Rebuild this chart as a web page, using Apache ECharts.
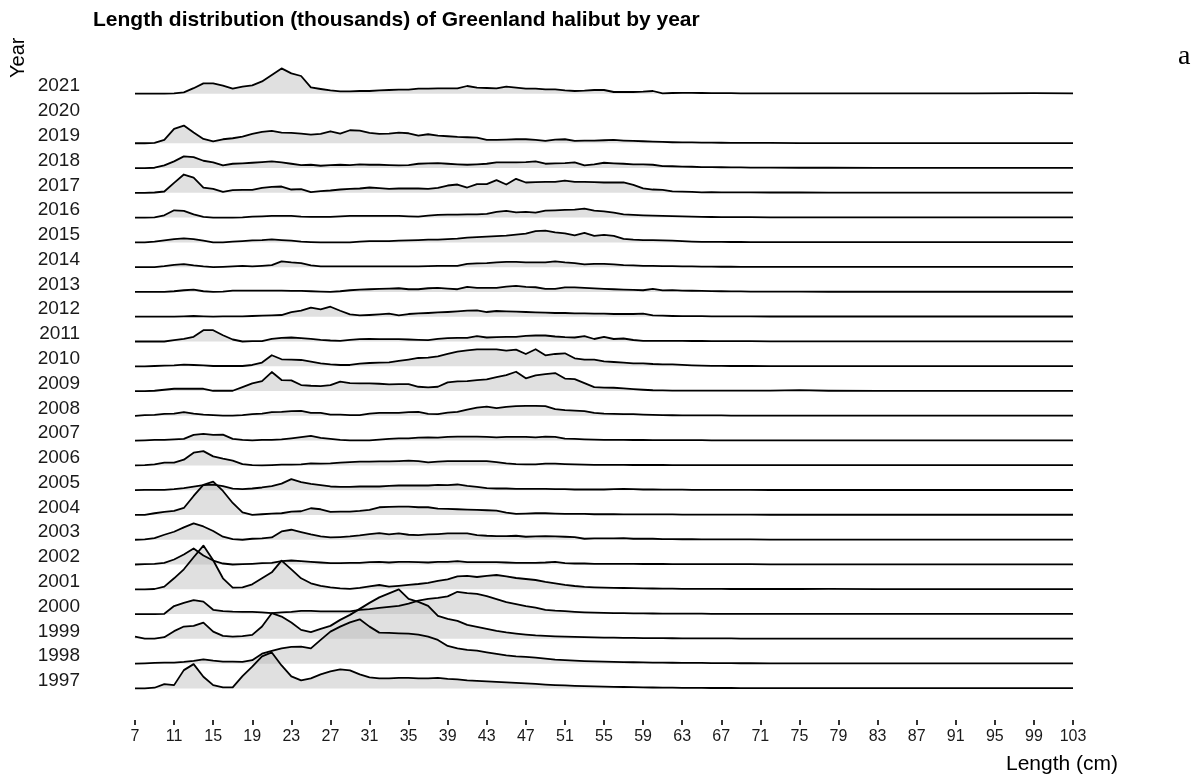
<!DOCTYPE html>
<html><head><meta charset="utf-8">
<script src="https://cdn.jsdelivr.net/npm/echarts@6/dist/echarts.min.js"></script>
<style>html,body{margin:0;padding:0;background:#fff}#main{width:1193px;height:782px}</style>
</head><body><div id="main"></div><script>
// Length classes (cm)
const lengths = [7,8,9,10,11,12,13,14,15,16,17,18,19,20,21,22,23,24,25,26,27,28,29,30,31,32,33,34,35,36,37,38,39,40,41,42,43,44,45,46,47,48,49,50,51,52,53,54,55,56,57,58,59,60,61,62,63,64,65,66,67,68,69,70,72,75,78,83,88,93,99,103];
const xTicks = [7,11,15,19,23,27,31,35,39,43,47,51,55,59,63,67,71,75,79,83,87,91,95,99,103];
// Years shown, top to bottom (2020 has no survey data)
const years = ['2021','2020','2019','2018','2017','2016','2015','2014','2013','2012','2011','2010','2009','2008','2007','2006','2005','2004','2003','2002','2001','2000','1999','1998','1997'];

// Estimated numbers (thousands, relative) by length class
const y2021 = [0,0,0,0,0.3,1.3,5.5,10.3,10.3,8, 5,7,8.3,12.3,18.7,25.3,20.3,17.7,6.3,4.7, 3.3,2.3,2.3,2.7,2.7,3.3,3.7,4,4,5, 5,5.3,5.3,5.3,7.7,6,5.7,5.3,7,6, 5,5,4.3,4.3,3.3,2.7,3,3.7,3.7,1.7, 1.7,1.7,2,2.7,0.3,0.7,0.8,0.8,0.7,0.6, 0.5,0.5,0.4,0.4, 0.3,0.3,0.3,0.3,0.3,0.3,0.5,0.3];
const y2019 = [0,0,0.3,3.3,14.3,17.7,10.7,4.3,2,4, 5,6.7,9.3,11.3,12.3,10.7,10.3,9.7,8.7,9.3, 12,9.7,13,12.7,10.3,9.3,9.7,10.7,10,7.7, 9,7.7,7,6.3,6,5.7,3.3,3.3,3.7,4, 4,3.3,2.3,3.7,4,2.3,2.7,2.7,3,3.3, 2.7,2.3,2,1.7,1.3,1,0.9,0.8,0.7,0.6, 0.5,0.4,0.4,0.3, 0.3,0.2,0.2,0.2,0.2,0.2,0.2,0.2];
const y2018 = [0,0,0.3,2.7,6.7,11.7,11,7.3,5.7,2.7, 4.3,4.7,5.3,6,6.7,5.7,4.3,3,3.3,2.3, 3,3.3,3,3.7,3.3,3.3,3,2.7,3,4.3, 4.7,5,4.3,3.7,3.3,3.7,4.3,5.7,5.7,5.7, 6,6.7,4.3,4.7,5,5.7,2.7,3.7,5.3,4.7, 4.3,3.7,3.7,3.3,2,1.8,1.5,1.3,1,0.9, 0.8,0.7,0.6,0.5, 0.4,0.3,0.3,0.2,0.2,0.2,0.2,0.2];
const y2017 = [0,0,0.3,1.3,10,18.3,15.3,5.3,4,1, 2.7,3,3,5,6,6.3,3.3,3.7,0.7,1.7, 2.3,3.3,4,4.3,5.3,4.7,4,4.3,4.3,4.3, 4,5,7.3,8.3,5.3,8.7,8.7,12.7,8.3,14, 10.3,10.7,11,11,12.3,11,11,10.7,10.3,10.3, 10.5,8,4.5,3.3,3,1.5,1.2,1,0.5,0.7, 0.5,0.5,0.4,0.4, 0.3,0.3,0.2,0.2,0.2,0.2,0.2,0.2];
const y2016 = [0,0,0.3,2.3,7.3,6.7,3.3,0.7,0,0, 0,0.3,1,1.3,1.7,1.7,1.7,1,0.7,0.7, 0.7,1.3,1.7,1.7,1.7,1.7,1.7,1.7,1.3,1, 2,2.7,3,3,3.3,3.3,3.7,5.7,6.7,5.3, 5.7,5,7,7.3,7.7,8,9,7,6.3,5, 3.3,2.7,2.3,2,1.7,1.5,1.2,0.9,0.7,0.6, 0.5,0.5,0.4,0.4, 0.3,0.3,0.2,0.2,0.2,0.2,0.2,0.2];
const y2015 = [0,0,0.7,2,3.3,4,3.3,1.7,0,0, 0.7,1.3,2,2.3,3,2.3,1.7,0.7,0.3,0, 0,0,0,0.7,1.3,1.3,1.3,1.7,2,2.3, 2.7,2.7,3.3,3.7,4.7,5.3,5.7,6.3,6.7,7.7, 8.7,11.3,11.7,10,9,7,9.5,6.5,7.5,6.5, 3.5,2.7,2.3,2.2,2,1.7,1.2,0.8,0.6,0.5, 0.5,0.4,0.4,0.3, 0.3,0.2,0.2,0.2,0.2,0.2,0.2,0.2];
const y2014 = [0,0,0,1,2.3,3,1.7,0.7,0,0.3, 0.7,1.3,0.7,1.3,2,5.7,4.7,4,1.7,0.7, 0.7,0.7,0.7,0.7,0.7,0.7,0.7,0.7,0.7,0.7, 1,1.3,1.3,1.3,3.3,3.7,4,4.7,5.3,5.3, 4.7,4.7,4.7,5.7,4.7,4,2.7,3.3,3.3,2.7, 2,1.7,1.3,1.2,1,1,0.8,0.7,0.6,0.5, 0.4,0.4,0.3,0.3, 0.3,0.2,0.2,0.2,0.2,0.2,0.2,0.2];
const y2013 = [0,0,0,0,0.7,1.7,2.3,0.7,0,0.3, 1.3,1.3,1.3,1.3,1.3,1.3,1,1,0.7,0.3, 0,0.7,1.7,2.3,2.7,3,3.3,3.7,2.7,2.7, 3.7,4,3.3,2.7,5,4,4,4,5.3,6, 5,4.7,3,3,4.5,4.5,4,3.5,3,2.7, 2.3,2,1.7,3,1.5,1.8,1.4,1.2,1,0.8, 0.7,0.6,0.5,0.4, 0.3,0.3,0.2,0.2,0.2,0.2,0.2,0.2];
const y2012 = [0,0,0,0,0,0.3,0.7,0.3,0,0.3, 0.3,0.3,0.7,1,1.3,1.7,4.7,6,9,7.3, 10,6,2.3,1.3,1.7,2.3,3,1.3,2.7,3.3, 3.7,4.3,4.7,5.3,6,6.3,4.7,5.7,5.3,5, 4.7,4.3,4,3.7,3.7,3.3,3.3,3,3,2.7, 2.7,2.7,3,1.3,1,0.7,0.6,0.5,0.5,0.4, 0.4,0.3,0.3,0.3, 0.2,0.2,0.2,0.2,0.2,0.2,0.2,0.2];
const y2011 = [0,0,0,0,1.3,2.7,4.7,11.3,11.3,6.3, 2,0,0.3,0.3,2.7,3.7,4,3.3,2.7,1.7, 1,0.7,1.7,2.3,2.7,2.3,2.3,2.3,2,1.7, 1.3,2.7,3.3,3.7,3.7,5.3,4,4.3,4.7,4.7, 5.7,6,6,5,4.3,4,5.3,2.5,4.7,2.5, 3,1.5,0.7,0.7,0.7,0.7,0.6,0.5,0.5,0.4, 0.4,0.3,0.3,0.3, 0.2,0.2,0.2,0.2,0.2,0.2,0.2,0.2];
const y2010 = [0,0,0.3,0.7,1,1.7,1.3,1,0.3,0.3, 0.3,0.3,1.3,3.7,11,7,6.7,6.3,4.7,3, 2,1.3,1.3,2.7,3.3,3.7,4,5.3,6.7,8.3, 8.7,10,12.3,14.7,16,17,17,17,15.7,16.7, 12.3,17,11,12.3,13,8,6.7,6.7,5,4.3, 3.7,3,3,2.3,2,2,1.5,1,0.7,0.5, 0.4,0.3,0.3,0.3, 0.2,0.2,0.2,0.2,0.2,0.2,0.2,0.2];
const y2009 = [0,0,0.3,1.3,2.3,2.3,2.3,2.3,0.3,0.3, 0.3,4,7.7,10,19,11,10.7,6,5.3,5, 6,9.5,8,7.7,7.7,7.3,6.7,7,7,4.3, 3.7,4.3,8.7,9.7,10,11,11.7,14,16,19.3, 12.7,15.7,17,18,12.5,12,8,4,3.5,3.3, 2.7,2,1.3,0.8,0.6,0.5,0.5,0.4,0.4,0.4, 0.4,0.4,0.4,0.4, 0.4,0.9,0.3,0.2,0.2,0.2,0.2,0.2];
const y2008 = [0,0.7,1,2,2.3,3.7,2.3,1.3,0.7,0.3, 0.3,0.7,1.7,2.3,3.7,4,4.7,5,3,3, 1.3,1.3,0.7,0.7,2.3,3,3,3,3.7,4, 2,1.7,3.3,4,6.3,8.3,9.3,7.7,9,9.7, 10,10,9.7,6.7,5.7,5.3,4.7,3,2.3,2, 1.7,1.7,1.3,1,0.7,0.6,0.5,0.5,0.4,0.4, 0.4,0.3,0.3,0.3, 0.2,0.2,0.2,0.2,0.2,0.2,0.2,0.2];
const y2007 = [0,0.3,0.7,0.7,1.3,1.7,5.7,6.7,5.7,6, 1.7,0.7,0.3,0.7,0.7,1.3,2.3,3.5,4.7,2.7, 1.7,0.7,0.3,0.3,0.3,1,1.7,2.3,2.3,3, 3.3,3,3.7,4,4,4,3.7,3.3,3.7,3.7, 3.7,3.3,4,3.7,2,1.7,1.3,1,0.7,0.7, 0.7,0.6,0.6,0.5,0.5,0.5,0.4,0.4,0.4,0.3, 0.3,0.3,0.3,0.3, 0.2,0.2,0.2,0.2,0.2,0.2,0.2,0.2];
const y2006 = [0,0.3,1,2.7,2.7,5.7,12.7,14.3,9,6.7, 4.7,1.3,0.3,0,0.3,0.7,0.7,1,2,1.7, 2,2.7,3.3,3.7,3.7,4,4,4.3,4.7,4.3, 3,3.7,4.3,4.3,4.3,4.3,4.3,3.3,2,1.3, 1,1,1.7,1.7,1.3,1,0.7,0.5,0.5,0.5, 0.5,0.4,0.4,0.4,0.4,0.3,0.3,0.3,0.3,0.3, 0.3,0.3,0.3,0.3, 0.2,0.2,0.2,0.2,0.2,0.2,0.2,0.2];
const y2005 = [0,0.3,0.3,0.3,1,2,3.5,5,5.5,4, 1.5,1,1.7,2.7,4,6.5,11,8,6.3,5, 3.7,3.3,3.3,3.7,3.7,3.7,4.3,4.7,4.7,4.7, 4.7,5.3,5,5.7,4.3,3.3,2,1.7,1.7,1.3, 1.3,1.3,1.3,1,1,0.7,0.7,0.7,0.7,1, 1.3,1,0.7,0.7,0.6,0.5,0.5,0.4,0.4,0.4, 0.3,0.3,0.3,0.3, 0.2,0.2,0.2,0.2,0.2,0.2,0.2,0.2];
const y2004 = [0,0,1.7,3,4,7,19,30,33.3,24, 12,2.5,0,0.7,1.3,1.7,3.3,3.7,6.7,5.7, 3,3.3,3.3,4,5,7.7,8,8.3,8.3,7.7, 7.7,6.3,6,5.7,5.3,5,4.7,4.3,2.3,1, 1.3,1.7,1.7,1.3,1,1,1,0.7,0.7,0.7, 0.6,0.6,0.5,0.5,0.5,0.5,0.4,0.4,0.4,0.4, 0.3,0.3,0.3,0.3, 0.2,0.2,0.2,0.2,0.2,0.2,0.2,0.2];
const y2003 = [0,0.3,1.7,5,8,12.3,16.3,13.3,8.7,3, 0.7,0,1,1.3,2.3,8.3,10,7.7,5.3,3.3, 2.3,2.7,3.3,4.3,5.7,6.7,5.3,6.3,5,4.7, 5.3,5.7,6.3,6.3,6.3,4.7,4,3.7,3.7,4, 3,3.3,3.7,3.3,3,2.7,1,1.3,1.3,1.3, 1.7,1,1,1,0.7,0.6,0.5,0.5,0.4,0.4, 0.4,0.3,0.3,0.3, 0.2,0.2,0.2,0.2,0.2,0.2,0.2,0.2];
const y2002 = [0,0.3,0.7,1.7,5,10,16,9,4,1, 0,0.3,0.7,1.3,1.7,3.3,4,3.3,2.7,2, 1.3,1.3,1.7,1.7,2.3,2.7,2,2.7,2.7,2.3, 2,2.7,2.7,3.3,2.3,2.3,2.3,2.3,2,1.7, 1.7,1.7,2,2.7,1.3,1,1,0.7,0.7,0.7, 0.6,0.6,0.5,0.5,0.5,0.4,0.4,0.4,0.3,0.3, 0.3,0.3,0.3,0.3, 0.2,0.2,0.2,0.2,0.2,0.2,0.2,0.2];
const y2001 = [0,0,0.3,2.7,11,20,32,43.7,29,11, 1.7,2,5,11,17,28.7,20,11,6,3.5, 2,1,0.5,1.5,3,4.3,2.7,3.5,4.5,5.3, 6.5,8.5,10,13,13.5,12.3,13.5,14.3,13,11.3, 10.3,9.3,7.5,6,4.5,3.3,2.5,2,1.6,1.4, 1.3,1.1,1,0.8,0.7,0.6,0.5,0.5,0.4,0.4, 0.4,0.3,0.3,0.3, 0.3,0.3,0.4,0.2,0.2,0.2,0.2,0.2];
const y2000 = [0,0,0,0.3,8,11.3,14,12.5,4.3,3, 2.5,2.3,2.3,1.8,1,1.8,2.2,3.3,3.3,2.8, 2.7,2.7,2.7,4.3,5,6.2,7.3,8.3,10.5,13.5, 15.3,16.2,17.7,22.3,21,20.2,18,15,12,10, 8,6.5,4.3,3.5,3,2.3,1.8,1.5,1.2,1, 0.9,0.8,0.7,0.6,0.5,0.5,0.4,0.4,0.4,0.3, 0.3,0.3,0.3,0.3, 0.2,0.2,0.2,0.2,0.2,0.2,0.2,0.2];
const y1999 = [2.3,0.3,0.3,1.7,7.7,12.3,13,16.3,7.3,3, 2.3,2.7,4,12.3,25.7,22.3,16.3,9,6.7,10, 13,19,24,30,36,41.5,45.5,49.5,40,37, 33,23,20,18,14,12,10,8,6.5,5.3, 4.3,3.5,3,2.5,2.2,2,1.7,1.5,1.3,1.2, 1,1,0.8,0.8,0.7,0.6,0.5,0.5,0.5,0.4, 0.4,0.4,0.3,0.3, 0.3,0.2,0.2,0.2,0.2,0.2,0.2,0.2];
const y1998 = [0,0.3,0.7,1,1,1.7,2.7,4.3,3,2, 2,1.7,3.5,10,12.7,15.3,16.7,17,15.3,23.7, 32,37,41.3,44.3,37,31,30.7,30.3,30,29, 27,23.7,17.7,15.3,13.7,13,11.3,9.7,8.3,7.3, 6.7,6,5,4,3.5,3,2.6,2.3,2,1.8, 1.6,1.4,1.2,1.1,1,0.9,0.8,0.7,0.7,0.6, 0.5,0.5,0.4,0.4, 0.3,0.3,0.2,0.2,0.2,0.2,0.2,0.2];
const y1997 = [0,0,0.7,4.3,3.3,18.3,24.3,11.7,3.3,1, 1,12.3,21.7,32,36,23,12,8,10,14, 17,19,18,14,11,10,10,10.5,10.5,10, 10,10.5,9.5,9,8,7.5,7,6.5,6,5.5, 5,4.5,3.8,3.3,3,2.6,2.3,2,1.8,1.6, 1.4,1.2,1,0.9,0.8,0.7,0.6,0.5,0.5,0.4, 0.4,0.4,0.3,0.3, 0.3,0.2,0.2,0.2,0.2,0.2,0.2,0.2];

const byYear = {'2021':y2021,'2019':y2019,'2018':y2018,'2017':y2017,'2016':y2016,'2015':y2015,'2014':y2014,'2013':y2013,'2012':y2012,'2011':y2011,'2010':y2010,'2009':y2009,'2008':y2008,'2007':y2007,'2006':y2006,'2005':y2005,'2004':y2004,'2003':y2003,'2002':y2002,'2001':y2001,'2000':y2000,'1999':y1999,'1998':y1998,'1997':y1997};

const FONT = "'Liberation Sans', Arial, sans-serif";
const BASE0 = 93.7, ROW = 24.78, RIDGE = 80, LEFT = 135, RIGHT = 120;
const grid = [], xAxis = [], yAxis = [], series = [];
years.forEach((yr, k) => {
  const base = BASE0 + k * ROW;
  grid.push({left: LEFT, right: RIGHT, top: base - RIDGE, height: RIDGE, outerBoundsMode: 'none'});
  xAxis.push({gridIndex: k, type: 'value', min: 7, max: 103, show: false});
  yAxis.push({gridIndex: k, type: 'value', min: 0, max: RIDGE, interval: RIDGE,
    axisLine: {show: false}, axisTick: {show: false}, splitLine: {show: false},
    axisLabel: {formatter: v => (v === 0 ? yr : ''), fontSize: 19, fontFamily: FONT, color: '#1a1a1a',
      margin: 55, verticalAlign: 'bottom', lineHeight: 15}});
  const vals = byYear[yr];
  if (vals) {
    series.push({type: 'line', name: yr, xAxisIndex: k, yAxisIndex: k,
      data: lengths.map((L, i) => [L, vals[i]]),
      symbol: 'none', smooth: false, silent: true, clip: false,
      lineStyle: {color: '#000', width: 1.8, join: 'round'},
      areaStyle: {color: 'rgba(179,179,179,0.58)', origin: 'start'}});
  }
});
// axis grid for the length scale and axis titles
const gi = years.length;
grid.push({left: LEFT, right: RIGHT, top: 78, bottom: 62, outerBoundsMode: 'none'});
xAxis.push({gridIndex: gi, type: 'value', min: xTicks[0], max: xTicks[xTicks.length - 1], interval: 4,
  axisLine: {show: false}, splitLine: {show: false},
  axisTick: {show: true, length: 5, lineStyle: {color: '#333', width: 2}},
  axisLabel: {fontSize: 16, fontFamily: FONT, color: '#1a1a1a', margin: 9},
  name: 'Length (cm)', nameLocation: 'end', nameGap: 45, nameMoveOverlap: false,
  nameTextStyle: {fontSize: 21, fontFamily: FONT, color: '#000', align: 'right', verticalAlign: 'top', padding: [34, 0, 0, 0]}});
yAxis.push({gridIndex: gi, type: 'value', min: 0, max: 1, offset: 117,
  axisLine: {show: false}, axisTick: {show: false}, axisLabel: {show: false}, splitLine: {show: false},
  name: 'Year', nameLocation: 'end', nameRotate: 90, nameGap: 0, nameMoveOverlap: false,
  nameTextStyle: {fontSize: 20, fontFamily: FONT, color: '#000'}});

const chart = echarts.init(document.getElementById('main'), null, {renderer: 'canvas'});
chart.setOption({
  animation: false,
  backgroundColor: '#fff',
  title: [
    {text: 'Length distribution (thousands) of Greenland halibut by year', left: 88, top: 5,
      textStyle: {fontSize: 21, fontWeight: 'bold', fontFamily: FONT, color: '#000'}},
    {text: 'a', left: 1173, top: 38, textStyle: {fontSize: 28, fontWeight: 'normal', fontFamily: "'Liberation Serif', 'DejaVu Serif', serif", color: '#000'}}
  ],
  grid, xAxis, yAxis, series
});
</script></body></html>
